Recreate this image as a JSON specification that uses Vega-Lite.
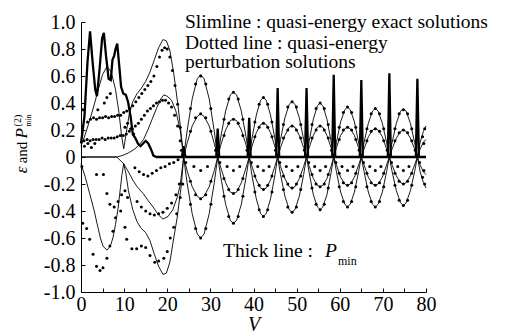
{
"$schema":"https://vega.github.io/schema/vega-lite/v6.json",
"width":345,"height":270,
"autosize":{"type":"none"},
"padding":{"left":81,"top":22,"right":84,"bottom":44},
"background":"#ffffff",
"config":{"view":{"stroke":null},"font":"Liberation Serif",
 "axis":{"grid":false,"domainColor":"#000","tickColor":"#000","labelColor":"#000","titleColor":"#000","labelFontSize":20,"domainWidth":1,"tickWidth":1},
 "text":{"font":"Liberation Serif","color":"#000"}},
"datasets":{
"notes":[{"V":24.12,"e":0.953,"t":"Slimline : quasi-energy exact solutions"},{"V":24.12,"e":0.798,"t":"Dotted line :  quasi-energy"},{"V":24.12,"e":0.657,"t":"perturbation solutions"},{"V":32.93,"e":-0.741,"t":"Thick line :"}],
"notesP":[{"V":56.58,"e":-0.741,"t":"P"}],
"notesSub":[{"V":59.6,"e":-0.8,"t":"min"}],
"ytIt":[{"V":-12.52,"e":-0.096,"t":"ε"},{"V":-12.52,"e":0.175,"t":"P"}],
"ytRm":[{"V":-12.52,"e":0.033,"t":"and"}],
"ytSup":[{"V":-13.91,"e":0.27,"t":"(2)"}],
"ytSub":[{"V":-11.48,"e":0.27,"t":"min"}],
"exact":[
{"V":0,"e":0.08,"c":"ap"},{"V":1,"e":0.17,"c":"ap"},{"V":2,"e":0.27,"c":"ap"},{"V":3,"e":0.38,"c":"ap"},{"V":4,"e":0.5,"c":"ap"},{"V":5,"e":0.61,"c":"ap"},{"V":6,"e":0.67,"c":"ap"},{"V":7,"e":0.63,"c":"ap"},{"V":8,"e":0.5,"c":"ap"},{"V":8.8,"e":0.33,"c":"ap"},{"V":9.4,"e":0.16,"c":"ap"},{"V":9.9,"e":0.06,"c":"ap"},{"V":10.5,"e":0.18,"c":"ap"},{"V":11.2,"e":0.32,"c":"ap"},{"V":12,"e":0.41,"c":"ap"},{"V":13,"e":0.47,"c":"ap"},{"V":14,"e":0.51,"c":"ap"},{"V":15,"e":0.56,"c":"ap"},{"V":16,"e":0.63,"c":"ap"},{"V":17,"e":0.72,"c":"ap"},{"V":18,"e":0.81,"c":"ap"},{"V":19,"e":0.87,"c":"ap"},{"V":19.8,"e":0.86,"c":"ap"},{"V":20.6,"e":0.79,"c":"ap"},{"V":21.5,"e":0.62,"c":"ap"},{"V":22.5,"e":0.38,"c":"ap"},{"V":23.2,"e":0.18,"c":"ap"},{"V":23.8,"e":0,"c":"ap"},
{"V":24.59,"e":0.19,"c":"ap"},{"V":25.78,"e":0.43,"c":"ap"},{"V":26.96,"e":0.58,"c":"ap"},{"V":27.75,"e":0.61,"c":"ap"},{"V":28.54,"e":0.58,"c":"ap"},{"V":29.73,"e":0.43,"c":"ap"},{"V":30.91,"e":0.19,"c":"ap"},{"V":31.7,"e":0,"c":"ap"},
{"V":32.43,"e":0.15,"c":"ap"},{"V":33.53,"e":0.34,"c":"ap"},{"V":34.62,"e":0.46,"c":"ap"},{"V":35.35,"e":0.48,"c":"ap"},{"V":36.08,"e":0.46,"c":"ap"},{"V":37.18,"e":0.34,"c":"ap"},{"V":38.27,"e":0.15,"c":"ap"},{"V":39,"e":0,"c":"ap"},
{"V":39.66,"e":0.14,"c":"ap"},{"V":40.65,"e":0.31,"c":"ap"},{"V":41.64,"e":0.42,"c":"ap"},{"V":42.3,"e":0.44,"c":"ap"},{"V":42.96,"e":0.42,"c":"ap"},{"V":43.95,"e":0.31,"c":"ap"},{"V":44.94,"e":0.14,"c":"ap"},{"V":45.6,"e":0,"c":"ap"},
{"V":46.27,"e":0.13,"c":"ap"},{"V":47.28,"e":0.29,"c":"ap"},{"V":48.28,"e":0.39,"c":"ap"},{"V":48.95,"e":0.41,"c":"ap"},{"V":49.62,"e":0.39,"c":"ap"},{"V":50.63,"e":0.29,"c":"ap"},{"V":51.63,"e":0.13,"c":"ap"},{"V":52.3,"e":0,"c":"ap"},
{"V":52.93,"e":0.12,"c":"ap"},{"V":53.88,"e":0.28,"c":"ap"},{"V":54.82,"e":0.38,"c":"ap"},{"V":55.45,"e":0.4,"c":"ap"},{"V":56.08,"e":0.38,"c":"ap"},{"V":57.03,"e":0.28,"c":"ap"},{"V":57.97,"e":0.12,"c":"ap"},{"V":58.6,"e":0,"c":"ap"},
{"V":59.24,"e":0.11,"c":"ap"},{"V":60.2,"e":0.26,"c":"ap"},{"V":61.16,"e":0.35,"c":"ap"},{"V":61.8,"e":0.37,"c":"ap"},{"V":62.44,"e":0.35,"c":"ap"},{"V":63.4,"e":0.26,"c":"ap"},{"V":64.36,"e":0.11,"c":"ap"},{"V":65,"e":0,"c":"ap"},
{"V":65.65,"e":0.11,"c":"ap"},{"V":66.63,"e":0.25,"c":"ap"},{"V":67.6,"e":0.34,"c":"ap"},{"V":68.25,"e":0.36,"c":"ap"},{"V":68.9,"e":0.34,"c":"ap"},{"V":69.88,"e":0.25,"c":"ap"},{"V":70.85,"e":0.11,"c":"ap"},{"V":71.5,"e":0,"c":"ap"},
{"V":72.15,"e":0.11,"c":"ap"},{"V":73.13,"e":0.25,"c":"ap"},{"V":74.1,"e":0.34,"c":"ap"},{"V":74.75,"e":0.355,"c":"ap"},{"V":75.4,"e":0.34,"c":"ap"},{"V":76.38,"e":0.25,"c":"ap"},{"V":77.35,"e":0.11,"c":"ap"},{"V":78,"e":0,"c":"ap"},
{"V":78.65,"e":0.11,"c":"ap"},{"V":79.4,"e":0.19,"c":"ap"},{"V":80,"e":0.23,"c":"ap"},

{"V":0,"e":0,"c":"bp"},{"V":8.3,"e":0,"c":"bp"},{"V":9.5,"e":0.01,"c":"bp"},{"V":11,"e":0.03,"c":"bp"},{"V":12.5,"e":0.06,"c":"bp"},{"V":13.5,"e":0.09,"c":"bp"},{"V":14.5,"e":0.13,"c":"bp"},{"V":15.5,"e":0.2,"c":"bp"},{"V":16.5,"e":0.28,"c":"bp"},{"V":17.5,"e":0.36,"c":"bp"},{"V":18.5,"e":0.43,"c":"bp"},{"V":19.2,"e":0.46,"c":"bp"},{"V":20,"e":0.45,"c":"bp"},{"V":21,"e":0.42,"c":"bp"},{"V":22,"e":0.34,"c":"bp"},{"V":23,"e":0.2,"c":"bp"},{"V":23.8,"e":0,"c":"bp"},
{"V":24.59,"e":0.1,"c":"bp"},{"V":25.78,"e":0.23,"c":"bp"},{"V":26.96,"e":0.3,"c":"bp"},{"V":27.75,"e":0.32,"c":"bp"},{"V":28.54,"e":0.3,"c":"bp"},{"V":29.73,"e":0.23,"c":"bp"},{"V":30.91,"e":0.1,"c":"bp"},{"V":31.7,"e":0,"c":"bp"},
{"V":32.43,"e":0.09,"c":"bp"},{"V":33.53,"e":0.2,"c":"bp"},{"V":34.62,"e":0.27,"c":"bp"},{"V":35.35,"e":0.28,"c":"bp"},{"V":36.08,"e":0.27,"c":"bp"},{"V":37.18,"e":0.2,"c":"bp"},{"V":38.27,"e":0.09,"c":"bp"},{"V":39,"e":0,"c":"bp"},
{"V":39.66,"e":0.08,"c":"bp"},{"V":40.65,"e":0.18,"c":"bp"},{"V":41.64,"e":0.24,"c":"bp"},{"V":42.3,"e":0.25,"c":"bp"},{"V":42.96,"e":0.24,"c":"bp"},{"V":43.95,"e":0.18,"c":"bp"},{"V":44.94,"e":0.08,"c":"bp"},{"V":45.6,"e":0,"c":"bp"},
{"V":46.27,"e":0.07,"c":"bp"},{"V":47.28,"e":0.16,"c":"bp"},{"V":48.28,"e":0.22,"c":"bp"},{"V":48.95,"e":0.23,"c":"bp"},{"V":49.62,"e":0.22,"c":"bp"},{"V":50.63,"e":0.16,"c":"bp"},{"V":51.63,"e":0.07,"c":"bp"},{"V":52.3,"e":0,"c":"bp"},
{"V":52.93,"e":0.07,"c":"bp"},{"V":53.88,"e":0.16,"c":"bp"},{"V":54.82,"e":0.22,"c":"bp"},{"V":55.45,"e":0.23,"c":"bp"},{"V":56.08,"e":0.22,"c":"bp"},{"V":57.03,"e":0.16,"c":"bp"},{"V":57.97,"e":0.07,"c":"bp"},{"V":58.6,"e":0,"c":"bp"},
{"V":59.24,"e":0.07,"c":"bp"},{"V":60.2,"e":0.16,"c":"bp"},{"V":61.16,"e":0.21,"c":"bp"},{"V":61.8,"e":0.22,"c":"bp"},{"V":62.44,"e":0.21,"c":"bp"},{"V":63.4,"e":0.16,"c":"bp"},{"V":64.36,"e":0.07,"c":"bp"},{"V":65,"e":0,"c":"bp"},
{"V":65.65,"e":0.06,"c":"bp"},{"V":66.63,"e":0.15,"c":"bp"},{"V":67.6,"e":0.2,"c":"bp"},{"V":68.25,"e":0.21,"c":"bp"},{"V":68.9,"e":0.2,"c":"bp"},{"V":69.88,"e":0.15,"c":"bp"},{"V":70.85,"e":0.06,"c":"bp"},{"V":71.5,"e":0,"c":"bp"},
{"V":72.15,"e":0.06,"c":"bp"},{"V":73.13,"e":0.14,"c":"bp"},{"V":74.1,"e":0.19,"c":"bp"},{"V":74.75,"e":0.2,"c":"bp"},{"V":75.4,"e":0.19,"c":"bp"},{"V":76.38,"e":0.14,"c":"bp"},{"V":77.35,"e":0.06,"c":"bp"},{"V":78,"e":0,"c":"bp"},
{"V":78.65,"e":0.06,"c":"bp"},{"V":79.4,"e":0.11,"c":"bp"},{"V":80,"e":0.13,"c":"bp"},

{"V":0,"e":-0.05,"c":"am"},{"V":1,"e":-0.15,"c":"am"},{"V":2,"e":-0.27,"c":"am"},{"V":3,"e":-0.39,"c":"am"},{"V":3.7,"e":-0.49,"c":"am"},{"V":4.5,"e":-0.6,"c":"am"},{"V":5.1,"e":-0.66,"c":"am"},{"V":6,"e":-0.69,"c":"am"},{"V":6.8,"e":-0.66,"c":"am"},{"V":7.4,"e":-0.6,"c":"am"},{"V":8,"e":-0.5,"c":"am"},{"V":8.6,"e":-0.38,"c":"am"},{"V":9.1,"e":-0.24,"c":"am"},{"V":9.5,"e":-0.13,"c":"am"},{"V":9.9,"e":-0.05,"c":"am"},{"V":10.4,"e":-0.12,"c":"am"},{"V":11,"e":-0.25,"c":"am"},{"V":12,"e":-0.39,"c":"am"},{"V":13,"e":-0.48,"c":"am"},{"V":14,"e":-0.53,"c":"am"},{"V":15,"e":-0.56,"c":"am"},{"V":16,"e":-0.62,"c":"am"},{"V":17,"e":-0.72,"c":"am"},{"V":18,"e":-0.81,"c":"am"},{"V":19,"e":-0.87,"c":"am"},{"V":19.8,"e":-0.86,"c":"am"},{"V":20.6,"e":-0.78,"c":"am"},{"V":21.3,"e":-0.64,"c":"am"},{"V":22.3,"e":-0.45,"c":"am"},{"V":23.3,"e":-0.2,"c":"am"},{"V":23.8,"e":0,"c":"am"},
{"V":24.59,"e":-0.19,"c":"am"},{"V":25.78,"e":-0.42,"c":"am"},{"V":26.96,"e":-0.57,"c":"am"},{"V":27.75,"e":-0.6,"c":"am"},{"V":28.54,"e":-0.57,"c":"am"},{"V":29.73,"e":-0.42,"c":"am"},{"V":30.91,"e":-0.19,"c":"am"},{"V":31.7,"e":0,"c":"am"},
{"V":32.43,"e":-0.15,"c":"am"},{"V":33.53,"e":-0.35,"c":"am"},{"V":34.62,"e":-0.47,"c":"am"},{"V":35.35,"e":-0.49,"c":"am"},{"V":36.08,"e":-0.47,"c":"am"},{"V":37.18,"e":-0.35,"c":"am"},{"V":38.27,"e":-0.15,"c":"am"},{"V":39,"e":0,"c":"am"},
{"V":39.66,"e":-0.14,"c":"am"},{"V":40.65,"e":-0.31,"c":"am"},{"V":41.64,"e":-0.42,"c":"am"},{"V":42.3,"e":-0.44,"c":"am"},{"V":42.96,"e":-0.42,"c":"am"},{"V":43.95,"e":-0.31,"c":"am"},{"V":44.94,"e":-0.14,"c":"am"},{"V":45.6,"e":0,"c":"am"},
{"V":46.27,"e":-0.13,"c":"am"},{"V":47.28,"e":-0.29,"c":"am"},{"V":48.28,"e":-0.39,"c":"am"},{"V":48.95,"e":-0.41,"c":"am"},{"V":49.62,"e":-0.39,"c":"am"},{"V":50.63,"e":-0.29,"c":"am"},{"V":51.63,"e":-0.13,"c":"am"},{"V":52.3,"e":0,"c":"am"},
{"V":52.93,"e":-0.12,"c":"am"},{"V":53.88,"e":-0.28,"c":"am"},{"V":54.82,"e":-0.37,"c":"am"},{"V":55.45,"e":-0.39,"c":"am"},{"V":56.08,"e":-0.37,"c":"am"},{"V":57.03,"e":-0.28,"c":"am"},{"V":57.97,"e":-0.12,"c":"am"},{"V":58.6,"e":0,"c":"am"},
{"V":59.24,"e":-0.11,"c":"am"},{"V":60.2,"e":-0.26,"c":"am"},{"V":61.16,"e":-0.35,"c":"am"},{"V":61.8,"e":-0.37,"c":"am"},{"V":62.44,"e":-0.35,"c":"am"},{"V":63.4,"e":-0.26,"c":"am"},{"V":64.36,"e":-0.11,"c":"am"},{"V":65,"e":0,"c":"am"},
{"V":65.65,"e":-0.11,"c":"am"},{"V":66.63,"e":-0.26,"c":"am"},{"V":67.6,"e":-0.35,"c":"am"},{"V":68.25,"e":-0.37,"c":"am"},{"V":68.9,"e":-0.35,"c":"am"},{"V":69.88,"e":-0.26,"c":"am"},{"V":70.85,"e":-0.11,"c":"am"},{"V":71.5,"e":0,"c":"am"},
{"V":72.15,"e":-0.11,"c":"am"},{"V":73.13,"e":-0.25,"c":"am"},{"V":74.1,"e":-0.34,"c":"am"},{"V":74.75,"e":-0.36,"c":"am"},{"V":75.4,"e":-0.34,"c":"am"},{"V":76.38,"e":-0.25,"c":"am"},{"V":77.35,"e":-0.11,"c":"am"},{"V":78,"e":0,"c":"am"},
{"V":78.65,"e":-0.11,"c":"am"},{"V":79.4,"e":-0.19,"c":"am"},{"V":80,"e":-0.23,"c":"am"},

{"V":0,"e":0,"c":"bm"},{"V":8.3,"e":0,"c":"bm"},{"V":9.9,"e":-0.05,"c":"bm"},{"V":11,"e":-0.11,"c":"bm"},{"V":12,"e":-0.17,"c":"bm"},{"V":13,"e":-0.22,"c":"bm"},{"V":14.4,"e":-0.27,"c":"bm"},{"V":15.5,"e":-0.32,"c":"bm"},{"V":16.7,"e":-0.37,"c":"bm"},{"V":18,"e":-0.43,"c":"bm"},{"V":19,"e":-0.46,"c":"bm"},{"V":20.2,"e":-0.44,"c":"bm"},{"V":21.3,"e":-0.39,"c":"bm"},{"V":22.3,"e":-0.3,"c":"bm"},{"V":23,"e":-0.21,"c":"bm"},{"V":23.8,"e":0,"c":"bm"},
{"V":24.59,"e":-0.1,"c":"bm"},{"V":25.78,"e":-0.22,"c":"bm"},{"V":26.96,"e":-0.29,"c":"bm"},{"V":27.75,"e":-0.31,"c":"bm"},{"V":28.54,"e":-0.29,"c":"bm"},{"V":29.73,"e":-0.22,"c":"bm"},{"V":30.91,"e":-0.1,"c":"bm"},{"V":31.7,"e":0,"c":"bm"},
{"V":32.43,"e":-0.08,"c":"bm"},{"V":33.53,"e":-0.19,"c":"bm"},{"V":34.62,"e":-0.26,"c":"bm"},{"V":35.35,"e":-0.27,"c":"bm"},{"V":36.08,"e":-0.26,"c":"bm"},{"V":37.18,"e":-0.19,"c":"bm"},{"V":38.27,"e":-0.08,"c":"bm"},{"V":39,"e":0,"c":"bm"},
{"V":39.66,"e":-0.07,"c":"bm"},{"V":40.65,"e":-0.17,"c":"bm"},{"V":41.64,"e":-0.23,"c":"bm"},{"V":42.3,"e":-0.24,"c":"bm"},{"V":42.96,"e":-0.23,"c":"bm"},{"V":43.95,"e":-0.17,"c":"bm"},{"V":44.94,"e":-0.07,"c":"bm"},{"V":45.6,"e":0,"c":"bm"},
{"V":46.27,"e":-0.07,"c":"bm"},{"V":47.28,"e":-0.16,"c":"bm"},{"V":48.28,"e":-0.22,"c":"bm"},{"V":48.95,"e":-0.23,"c":"bm"},{"V":49.62,"e":-0.22,"c":"bm"},{"V":50.63,"e":-0.16,"c":"bm"},{"V":51.63,"e":-0.07,"c":"bm"},{"V":52.3,"e":0,"c":"bm"},
{"V":52.93,"e":-0.07,"c":"bm"},{"V":53.88,"e":-0.16,"c":"bm"},{"V":54.82,"e":-0.21,"c":"bm"},{"V":55.45,"e":-0.22,"c":"bm"},{"V":56.08,"e":-0.21,"c":"bm"},{"V":57.03,"e":-0.16,"c":"bm"},{"V":57.97,"e":-0.07,"c":"bm"},{"V":58.6,"e":0,"c":"bm"},
{"V":59.24,"e":-0.06,"c":"bm"},{"V":60.2,"e":-0.15,"c":"bm"},{"V":61.16,"e":-0.2,"c":"bm"},{"V":61.8,"e":-0.21,"c":"bm"},{"V":62.44,"e":-0.2,"c":"bm"},{"V":63.4,"e":-0.15,"c":"bm"},{"V":64.36,"e":-0.06,"c":"bm"},{"V":65,"e":0,"c":"bm"},
{"V":65.65,"e":-0.06,"c":"bm"},{"V":66.63,"e":-0.15,"c":"bm"},{"V":67.6,"e":-0.2,"c":"bm"},{"V":68.25,"e":-0.21,"c":"bm"},{"V":68.9,"e":-0.2,"c":"bm"},{"V":69.88,"e":-0.15,"c":"bm"},{"V":70.85,"e":-0.06,"c":"bm"},{"V":71.5,"e":0,"c":"bm"},
{"V":72.15,"e":-0.06,"c":"bm"},{"V":73.13,"e":-0.14,"c":"bm"},{"V":74.1,"e":-0.19,"c":"bm"},{"V":74.75,"e":-0.2,"c":"bm"},{"V":75.4,"e":-0.19,"c":"bm"},{"V":76.38,"e":-0.14,"c":"bm"},{"V":77.35,"e":-0.06,"c":"bm"},{"V":78,"e":0,"c":"bm"},
{"V":78.65,"e":-0.06,"c":"bm"},{"V":79.4,"e":-0.11,"c":"bm"},{"V":80,"e":-0.13,"c":"bm"}
],
"pmin":[
{"V":0,"e":0.1},{"V":0.8,"e":0.3},{"V":1.5,"e":0.7},{"V":2.1,"e":0.93},{"V":2.7,"e":0.7},{"V":3.3,"e":0.5},{"V":3.7,"e":0.45},{"V":4.3,"e":0.65},{"V":4.9,"e":0.88},{"V":5.3,"e":0.92},{"V":5.8,"e":0.75},{"V":6.4,"e":0.58},{"V":6.9,"e":0.57},{"V":7.3,"e":0.72},{"V":7.7,"e":0.75},{"V":8.0,"e":0.8},{"V":8.4,"e":0.84},{"V":8.8,"e":0.7},{"V":9.3,"e":0.52},{"V":9.8,"e":0.47},{"V":10.4,"e":0.46},{"V":10.9,"e":0.41},{"V":11.5,"e":0.3},{"V":12,"e":0.17},{"V":12.6,"e":0.14},{"V":13.2,"e":0.1},{"V":13.8,"e":0.08},{"V":14.4,"e":0.1},{"V":15,"e":0.12},{"V":15.6,"e":0.1},{"V":16.2,"e":0.06},{"V":16.8,"e":0.01},{"V":17.5,"e":0},
{"V":23.4,"e":0},{"V":23.8,"e":0.08},{"V":24.2,"e":0},
{"V":31.35,"e":0},{"V":31.7,"e":0.21},{"V":32.05,"e":0},
{"V":38.65,"e":0},{"V":39,"e":0.29},{"V":39.35,"e":0},
{"V":45.25,"e":0},{"V":45.6,"e":0.51},{"V":45.95,"e":0},
{"V":51.95,"e":0},{"V":52.3,"e":0.51},{"V":52.65,"e":0},
{"V":58.25,"e":0},{"V":58.6,"e":0.61},{"V":58.95,"e":0},
{"V":64.65,"e":0},{"V":65,"e":0.57},{"V":65.35,"e":0},
{"V":71.15,"e":0},{"V":71.5,"e":0.62},{"V":71.85,"e":0},
{"V":77.65,"e":0},{"V":78,"e":0.58},{"V":78.35,"e":0},{"V":80,"e":0}
],
"pert":[
{"V":1.5,"e":0.26},{"V":2.2,"e":0.28},{"V":2.9,"e":0.29},{"V":3.6,"e":0.28},{"V":4.3,"e":0.29},{"V":5.0,"e":0.29},{"V":5.7,"e":0.3},{"V":6.4,"e":0.29},{"V":7.1,"e":0.3},{"V":7.8,"e":0.3},{"V":8.5,"e":0.31},{"V":9.2,"e":0.31},{"V":9.9,"e":0.33},{"V":10.6,"e":0.34},{"V":11.3,"e":0.36},{"V":12.0,"e":0.38},{"V":12.7,"e":0.41},{"V":13.4,"e":0.44},{"V":14.1,"e":0.47},{"V":14.8,"e":0.5},{"V":15.5,"e":0.53},{"V":16.2,"e":0.56},{"V":16.9,"e":0.6},{"V":17.6,"e":0.67},{"V":18.2,"e":0.74},{"V":18.8,"e":0.79},{"V":19.4,"e":0.81},{"V":20.0,"e":0.8},{"V":20.6,"e":0.74},{"V":21.2,"e":0.64},{"V":21.8,"e":0.53},{"V":22.4,"e":0.39},{"V":23.0,"e":0.22},
{"V":0.7,"e":0.12},{"V":1.4,"e":0.13},{"V":2.1,"e":0.12},{"V":2.8,"e":0.13},{"V":3.5,"e":0.13},{"V":4.2,"e":0.13},{"V":4.9,"e":0.14},{"V":5.6,"e":0.13},{"V":6.3,"e":0.14},{"V":7.0,"e":0.14},{"V":7.7,"e":0.14},{"V":8.4,"e":0.15},{"V":9.1,"e":0.16},{"V":9.8,"e":0.16},{"V":10.5,"e":0.17},{"V":11.2,"e":0.19},{"V":11.9,"e":0.21},{"V":12.6,"e":0.23},{"V":13.3,"e":0.25},{"V":14.0,"e":0.28},{"V":14.7,"e":0.31},{"V":15.4,"e":0.34},{"V":16.1,"e":0.36},{"V":16.8,"e":0.38},{"V":17.5,"e":0.4},{"V":18.2,"e":0.41},{"V":18.9,"e":0.42},{"V":19.6,"e":0.42},{"V":20.3,"e":0.4},{"V":21.0,"e":0.37},{"V":21.7,"e":0.31},{"V":22.4,"e":0.23},{"V":23.0,"e":0.12},
{"V":0.4,"e":0.35},{"V":0.8,"e":0.08},{"V":1.6,"e":0.1},{"V":2.4,"e":0.07},{"V":3.2,"e":0.1},{"V":3.9,"e":0.35},{"V":5.4,"e":0.4},{"V":6.0,"e":0.44},{"V":6.8,"e":0.47},{"V":10.2,"e":0.22},{"V":10.8,"e":0.25},{"V":11.5,"e":0.21},{"V":12.2,"e":0.17},
{"V":0.2,"e":-0.07},{"V":0.4,"e":-0.49},{"V":1.3,"e":-0.53},{"V":2.0,"e":-0.61},{"V":2.8,"e":-0.72},{"V":3.6,"e":-0.81},{"V":4.4,"e":-0.84},{"V":5.1,"e":-0.82},{"V":6.0,"e":-0.75},{"V":6.7,"e":-0.66},{"V":7.4,"e":-0.55},{"V":8.0,"e":-0.45},
{"V":3.6,"e":-0.13},{"V":5.2,"e":-0.13},{"V":6.0,"e":-0.27},{"V":6.7,"e":-0.35},{"V":7.7,"e":-0.37},{"V":8.6,"e":-0.33},{"V":9.4,"e":-0.28},{"V":10.2,"e":-0.25},{"V":10.8,"e":-0.3},{"V":9.2,"e":-0.4},{"V":10.2,"e":-0.52},
{"V":10.6,"e":-0.61},{"V":11.8,"e":-0.68},{"V":12.9,"e":-0.68},{"V":14.0,"e":-0.66},{"V":15.0,"e":-0.67},{"V":16.0,"e":-0.73},{"V":17.1,"e":-0.78},{"V":18.0,"e":-0.77},{"V":19.2,"e":-0.75},{"V":20.0,"e":-0.7},{"V":20.7,"e":-0.6},{"V":21.5,"e":-0.52},{"V":22.2,"e":-0.42},{"V":23.0,"e":-0.3},{"V":23.6,"e":-0.2},
{"V":13,"e":-0.33},{"V":14,"e":-0.37},{"V":15,"e":-0.4},{"V":16,"e":-0.42},{"V":17,"e":-0.43},{"V":18,"e":-0.42},{"V":19,"e":-0.41},{"V":20,"e":-0.38},{"V":21,"e":-0.34},{"V":22,"e":-0.28},{"V":22.8,"e":-0.2},
{"V":12.5,"e":-0.08},{"V":13.5,"e":-0.11},{"V":14.5,"e":-0.13},{"V":15.5,"e":-0.14},{"V":16.5,"e":-0.12},{"V":17.5,"e":-0.1},{"V":18.5,"e":-0.08},{"V":19.5,"e":-0.07},{"V":20.5,"e":-0.05},{"V":21.5,"e":-0.04},{"V":22.5,"e":-0.02},
{"V":25.38,"e":0.36},{"V":26.57,"e":0.54},{"V":27.75,"e":0.6},{"V":28.94,"e":0.54},{"V":30.12,"e":0.36},
{"V":33.16,"e":0.28},{"V":34.26,"e":0.43},{"V":35.35,"e":0.48},{"V":36.45,"e":0.43},{"V":37.54,"e":0.28},
{"V":40.32,"e":0.26},{"V":41.31,"e":0.39},{"V":42.3,"e":0.44},{"V":43.29,"e":0.39},{"V":44.28,"e":0.26},
{"V":46.94,"e":0.24},{"V":47.95,"e":0.37},{"V":48.95,"e":0.41},{"V":49.96,"e":0.37},{"V":50.96,"e":0.24},
{"V":53.56,"e":0.24},{"V":54.51,"e":0.36},{"V":55.45,"e":0.4},{"V":56.4,"e":0.36},{"V":57.34,"e":0.24},
{"V":59.88,"e":0.22},{"V":60.84,"e":0.33},{"V":61.8,"e":0.37},{"V":62.76,"e":0.33},{"V":63.72,"e":0.22},
{"V":66.3,"e":0.21},{"V":67.28,"e":0.32},{"V":68.25,"e":0.36},{"V":69.23,"e":0.32},{"V":70.2,"e":0.21},
{"V":72.8,"e":0.21},{"V":73.78,"e":0.32},{"V":74.75,"e":0.35},{"V":75.73,"e":0.32},{"V":76.7,"e":0.21},
{"V":25.38,"e":0.19},{"V":26.57,"e":0.29},{"V":27.75,"e":0.32},{"V":28.94,"e":0.29},{"V":30.12,"e":0.19},
{"V":33.16,"e":0.16},{"V":34.26,"e":0.25},{"V":35.35,"e":0.28},{"V":36.45,"e":0.25},{"V":37.54,"e":0.16},
{"V":40.32,"e":0.15},{"V":41.31,"e":0.22},{"V":42.3,"e":0.25},{"V":43.29,"e":0.22},{"V":44.28,"e":0.15},
{"V":46.94,"e":0.14},{"V":47.95,"e":0.2},{"V":48.95,"e":0.23},{"V":49.96,"e":0.2},{"V":50.96,"e":0.14},
{"V":53.56,"e":0.14},{"V":54.51,"e":0.2},{"V":55.45,"e":0.23},{"V":56.4,"e":0.2},{"V":57.34,"e":0.14},
{"V":59.88,"e":0.13},{"V":60.84,"e":0.2},{"V":61.8,"e":0.22},{"V":62.76,"e":0.2},{"V":63.72,"e":0.13},
{"V":66.3,"e":0.12},{"V":67.28,"e":0.19},{"V":68.25,"e":0.21},{"V":69.23,"e":0.19},{"V":70.2,"e":0.12},
{"V":72.8,"e":0.12},{"V":73.78,"e":0.18},{"V":74.75,"e":0.2},{"V":75.73,"e":0.18},{"V":76.7,"e":0.12},
{"V":25.38,"e":-0.35},{"V":26.57,"e":-0.53},{"V":27.75,"e":-0.6},{"V":28.94,"e":-0.53},{"V":30.12,"e":-0.35},
{"V":33.16,"e":-0.29},{"V":34.26,"e":-0.44},{"V":35.35,"e":-0.49},{"V":36.45,"e":-0.44},{"V":37.54,"e":-0.29},
{"V":40.32,"e":-0.26},{"V":41.31,"e":-0.39},{"V":42.3,"e":-0.44},{"V":43.29,"e":-0.39},{"V":44.28,"e":-0.26},
{"V":46.94,"e":-0.24},{"V":47.95,"e":-0.37},{"V":48.95,"e":-0.41},{"V":49.96,"e":-0.37},{"V":50.96,"e":-0.24},
{"V":53.56,"e":-0.23},{"V":54.51,"e":-0.35},{"V":55.45,"e":-0.39},{"V":56.4,"e":-0.35},{"V":57.34,"e":-0.23},
{"V":59.88,"e":-0.22},{"V":60.84,"e":-0.33},{"V":61.8,"e":-0.37},{"V":62.76,"e":-0.33},{"V":63.72,"e":-0.22},
{"V":66.3,"e":-0.22},{"V":67.28,"e":-0.33},{"V":68.25,"e":-0.37},{"V":69.23,"e":-0.33},{"V":70.2,"e":-0.22},
{"V":72.8,"e":-0.21},{"V":73.78,"e":-0.32},{"V":74.75,"e":-0.36},{"V":75.73,"e":-0.32},{"V":76.7,"e":-0.21},
{"V":25.38,"e":-0.18},{"V":26.57,"e":-0.28},{"V":27.75,"e":-0.31},{"V":28.94,"e":-0.28},{"V":30.12,"e":-0.18},
{"V":33.16,"e":-0.16},{"V":34.26,"e":-0.24},{"V":35.35,"e":-0.27},{"V":36.45,"e":-0.24},{"V":37.54,"e":-0.16},
{"V":40.32,"e":-0.14},{"V":41.31,"e":-0.21},{"V":42.3,"e":-0.24},{"V":43.29,"e":-0.21},{"V":44.28,"e":-0.14},
{"V":46.94,"e":-0.14},{"V":47.95,"e":-0.2},{"V":48.95,"e":-0.23},{"V":49.96,"e":-0.2},{"V":50.96,"e":-0.14},
{"V":53.56,"e":-0.13},{"V":54.51,"e":-0.2},{"V":55.45,"e":-0.22},{"V":56.4,"e":-0.2},{"V":57.34,"e":-0.13},
{"V":59.88,"e":-0.12},{"V":60.84,"e":-0.19},{"V":61.8,"e":-0.21},{"V":62.76,"e":-0.19},{"V":63.72,"e":-0.12},
{"V":66.3,"e":-0.12},{"V":67.28,"e":-0.19},{"V":68.25,"e":-0.21},{"V":69.23,"e":-0.19},{"V":70.2,"e":-0.12},
{"V":72.8,"e":-0.12},{"V":73.78,"e":-0.18},{"V":74.75,"e":-0.2},{"V":75.73,"e":-0.18},{"V":76.7,"e":-0.12},
{"V":26.17,"e":-0.07},{"V":27.75,"e":-0.1},{"V":29.33,"e":-0.07},
{"V":33.89,"e":-0.07},{"V":35.35,"e":-0.1},{"V":36.81,"e":-0.07},
{"V":40.98,"e":-0.07},{"V":42.3,"e":-0.1},{"V":43.62,"e":-0.07},
{"V":47.61,"e":-0.07},{"V":48.95,"e":-0.1},{"V":50.29,"e":-0.07},
{"V":54.19,"e":-0.07},{"V":55.45,"e":-0.1},{"V":56.71,"e":-0.07},
{"V":60.52,"e":-0.07},{"V":61.8,"e":-0.1},{"V":63.08,"e":-0.07},
{"V":66.95,"e":-0.07},{"V":68.25,"e":-0.1},{"V":69.55,"e":-0.07},
{"V":73.45,"e":-0.07},{"V":74.75,"e":-0.1},{"V":76.05,"e":-0.07},
{"V":23.3,"e":0.05},{"V":24.3,"e":-0.04},{"V":31.2,"e":0.05},{"V":32.2,"e":-0.04},{"V":38.5,"e":0.05},{"V":39.5,"e":-0.04},{"V":45.1,"e":0.05},{"V":46.1,"e":-0.04},{"V":51.8,"e":0.05},{"V":52.8,"e":-0.04},{"V":58.1,"e":0.05},{"V":59.1,"e":-0.04},{"V":64.5,"e":0.05},{"V":65.5,"e":-0.04},{"V":71.0,"e":0.05},{"V":72.0,"e":-0.04},{"V":77.5,"e":0.05},{"V":78.5,"e":-0.04},
{"V":79.2,"e":0.15},{"V":79.7,"e":0.21},{"V":79.2,"e":-0.15},{"V":79.7,"e":-0.2},{"V":79.5,"e":0.1},{"V":79.5,"e":-0.1}
]
},
"encoding":{
 "x":{"field":"V","type":"quantitative","scale":{"domain":[0,80],"nice":false},
  "axis":{"values":[0,5,10,15,20,25,30,35,40,45,50,55,60,65,70,75,80],"labelExpr":"datum.value % 10 == 0 ? datum.label : ''","tickSize":-4,"labelPadding":6,"labelFont":"Liberation Serif","labelFontSize":20,"title":"V","titleFont":"Liberation Serif","titleFontStyle":"italic","titleFontWeight":"normal","titleFontSize":20,"titlePadding":0,"labelFlush":false,"labelOverlap":false}},
 "y":{"field":"e","type":"quantitative","scale":{"domain":[-1,1],"nice":false,"zero":false},
  "axis":{"values":[-1,-0.8,-0.6,-0.4,-0.2,0,0.2,0.4,0.6,0.8,1],"tickSize":-4,"labelPadding":10,"labelFont":"Liberation Serif","labelFontSize":20,"title":null,"labelFlush":false,
   "labelExpr":"datum.value == 0 ? '0' : (datum.value < 0 ? '-' + format(-datum.value, '.1f') : format(datum.value, '.1f'))"}}
},
"layer":[
 {"data":{"name":"exact"},"mark":{"type":"line","color":"#000","strokeWidth":0.9},"encoding":{"detail":{"field":"c"}}},
 {"data":{"name":"pmin"},"mark":{"type":"line","color":"#000","strokeWidth":2.3}},
 {"data":{"name":"pert"},"mark":{"type":"circle","color":"#000","size":9,"opacity":1}},
 {"data":{"name":"notes"},"mark":{"type":"text","align":"left","baseline":"alphabetic","fontSize":19.5},"encoding":{"text":{"field":"t"}}},
 {"data":{"name":"notesP"},"mark":{"type":"text","align":"left","baseline":"alphabetic","fontSize":19.5,"fontStyle":"italic"},"encoding":{"text":{"field":"t"}}},
 {"data":{"name":"notesSub"},"mark":{"type":"text","align":"left","baseline":"alphabetic","fontSize":12},"encoding":{"text":{"field":"t"}}},
 {"data":{"name":"ytIt"},"mark":{"type":"text","align":"center","baseline":"alphabetic","angle":270,"fontSize":17,"fontStyle":"italic"},"encoding":{"text":{"field":"t"}}},
 {"data":{"name":"ytRm"},"mark":{"type":"text","align":"center","baseline":"alphabetic","angle":270,"fontSize":15},"encoding":{"text":{"field":"t"}}},
 {"data":{"name":"ytSup"},"mark":{"type":"text","align":"center","baseline":"alphabetic","angle":270,"fontSize":10},"encoding":{"text":{"field":"t"}}},
 {"data":{"name":"ytSub"},"mark":{"type":"text","align":"center","baseline":"alphabetic","angle":270,"fontSize":7.5},"encoding":{"text":{"field":"t"}}}
]
}
